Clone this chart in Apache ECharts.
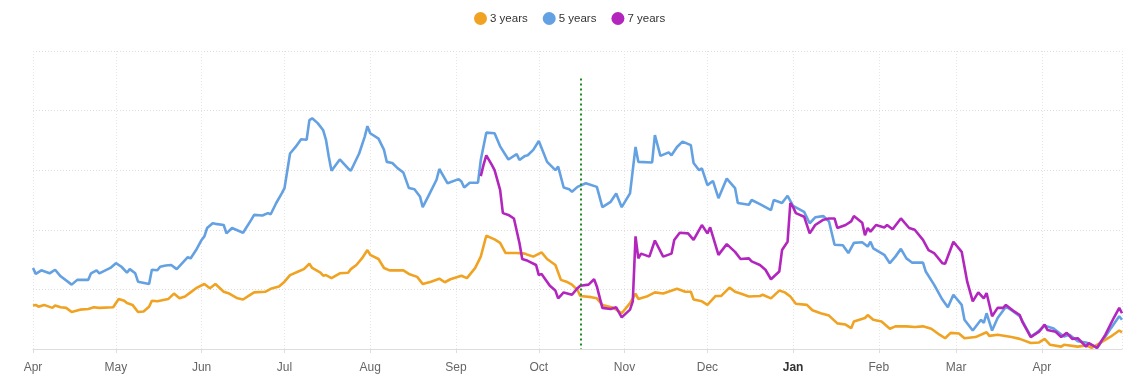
<!DOCTYPE html>
<html>
<head>
<meta charset="utf-8">
<script src="https://cdn.jsdelivr.net/npm/echarts@6/dist/echarts.min.js"></script>
<style>
html,body{margin:0;padding:0;background:#fff;}
#chart{width:1144px;height:385px;}
</style>
</head>
<body>
<div id="chart"></div>
<script>
// Day offsets are counted from the start date (1 Apr 2022)
const startDate = [2022, 3, 1];
const endDay = 394;
const markerDay = 198; // vertical marker (mid-October)
const seriesNames = ['3 years', '5 years', '7 years'];
const monthLabels = ['Jan','Feb','Mar','Apr','May','Jun','Jul','Aug','Sep','Oct','Nov','Dec'];

const threeYears = [[0,0.73],[1,0.74],[2,0.71],[4,0.74],[7,0.69],[8,0.73],[10,0.70],[12,0.69],[14,0.62],[17,0.66],[20,0.67],[22,0.70],[24,0.69],[29,0.70],[31,0.84],[33,0.81],[34,0.77],[36,0.74],[38,0.62],[40,0.63],[42,0.71],[43,0.81],[45,0.80],[48,0.83],[49,0.84],[51,0.93],[53,0.85],[55,0.88],[57,0.95],[59,1.02],[62,1.09],[64,1.02],[66,1.09],[69,0.96],[71,0.93],[74,0.85],[76,0.83],[78,0.89],[80,0.95],[84,0.96],[86,1.01],[89,1.05],[91,1.13],[93,1.24],[96,1.30],[98,1.34],[100,1.43],[101,1.36],[104,1.28],[105,1.23],[106,1.24],[108,1.19],[111,1.27],[114,1.28],[115,1.34],[117,1.41],[119,1.52],[121,1.66],[122,1.58],[125,1.51],[127,1.36],[129,1.32],[131,1.32],[134,1.32],[136,1.26],[139,1.21],[141,1.09],[144,1.13],[147,1.18],[149,1.12],[151,1.17],[155,1.23],[157,1.19],[160,1.36],[162,1.55],[164,1.90],[167,1.84],[169,1.78],[171,1.61],[175,1.61],[178,1.60],[179,1.58],[181,1.55],[184,1.62],[186,1.51],[189,1.41],[191,1.16],[193,1.13],[195,1.08],[197,0.99],[198,0.89],[202,0.87],[204,0.85],[206,0.74],[210,0.69],[213,0.60],[216,0.77],[218,0.93],[219,0.84],[222,0.88],[225,0.95],[228,0.93],[233,1.01],[236,0.96],[238,0.96],[239,0.83],[242,0.80],[244,0.74],[247,0.89],[249,0.89],[252,1.03],[254,0.96],[256,0.93],[259,0.88],[263,0.89],[264,0.91],[267,0.85],[270,0.98],[272,0.95],[274,0.88],[276,0.76],[280,0.74],[282,0.65],[285,0.60],[288,0.56],[291,0.43],[294,0.41],[296,0.35],[297,0.46],[301,0.52],[302,0.57],[304,0.49],[307,0.46],[310,0.34],[312,0.38],[316,0.38],[319,0.37],[322,0.38],[325,0.34],[328,0.24],[330,0.18],[332,0.27],[335,0.26],[337,0.18],[341,0.20],[345,0.28],[346,0.22],[349,0.24],[354,0.20],[357,0.17],[361,0.10],[364,0.11],[366,0.17],[368,0.07],[372,0.04],[373,0.07],[378,0.04],[381,0.06],[383,0.02],[386,0.10],[390,0.21],[393,0.31],[394,0.28]];

const fiveYears = [[0,1.36],[1,1.26],[3,1.32],[6,1.27],[8,1.33],[10,1.22],[14,1.08],[16,1.16],[20,1.16],[21,1.27],[23,1.32],[24,1.27],[28,1.36],[30,1.44],[32,1.38],[34,1.28],[35,1.34],[37,1.27],[38,1.13],[42,1.09],[43,1.33],[45,1.32],[46,1.38],[48,1.40],[50,1.41],[52,1.34],[56,1.54],[57,1.52],[59,1.66],[61,1.83],[62,1.89],[63,2.03],[65,2.11],[66,2.10],[69,2.08],[70,1.94],[72,2.03],[76,1.95],[79,2.17],[80,2.25],[83,2.24],[85,2.28],[86,2.26],[88,2.45],[90,2.61],[91,2.70],[93,3.28],[95,3.39],[97,3.52],[99,3.51],[100,3.84],[101,3.87],[103,3.79],[105,3.67],[106,3.51],[107,3.23],[108,2.99],[111,3.18],[114,3.03],[115,2.99],[118,3.28],[120,3.56],[121,3.74],[122,3.62],[125,3.53],[127,3.34],[128,3.14],[130,3.12],[132,3.03],[134,2.96],[136,2.70],[138,2.68],[140,2.56],[141,2.38],[143,2.56],[146,2.84],[147,3.02],[150,2.78],[154,2.85],[155,2.81],[156,2.71],[158,2.79],[161,2.79],[162,3.17],[164,3.63],[167,3.62],[169,3.40],[172,3.18],[175,3.27],[176,3.17],[178,3.24],[179,3.25],[181,3.34],[183,3.49],[186,3.14],[189,3.00],[190,3.06],[192,2.71],[194,2.68],[195,2.64],[197,2.72],[200,2.78],[204,2.72],[206,2.38],[209,2.47],[211,2.61],[213,2.38],[216,2.61],[218,3.39],[219,3.14],[224,3.13],[225,3.59],[227,3.24],[230,3.30],[231,3.25],[233,3.39],[235,3.48],[238,3.42],[239,3.12],[241,3.00],[242,3.03],[244,2.75],[246,2.82],[248,2.53],[251,2.86],[254,2.70],[255,2.45],[259,2.42],[260,2.50],[263,2.43],[267,2.33],[268,2.50],[271,2.45],[273,2.57],[275,2.40],[279,2.30],[281,2.11],[283,2.21],[286,2.23],[288,2.14],[290,1.75],[293,1.74],[295,1.61],[297,1.78],[300,1.79],[302,1.72],[303,1.80],[304,1.69],[308,1.58],[310,1.44],[312,1.55],[314,1.68],[316,1.52],[318,1.45],[322,1.45],[323,1.30],[326,1.08],[329,0.83],[331,0.70],[333,0.91],[336,0.74],[337,0.49],[340,0.31],[343,0.49],[344,0.44],[345,0.60],[347,0.31],[349,0.52],[352,0.71],[354,0.65],[357,0.55],[361,0.21],[363,0.27],[366,0.39],[369,0.35],[373,0.21],[375,0.24],[378,0.13],[381,0.11],[385,0.02],[388,0.21],[390,0.35],[393,0.55],[394,0.49]];

const sevenYears = [[162,2.90],[163,3.09],[164,3.25],[166,3.09],[167,3.00],[169,2.67],[170,2.28],[172,2.25],[174,2.19],[176,1.78],[177,1.51],[179,1.48],[182,1.41],[183,1.24],[184,1.26],[187,1.06],[189,0.98],[190,0.85],[192,0.95],[195,0.91],[197,1.02],[198,1.06],[201,1.08],[203,1.17],[204,1.05],[206,0.69],[209,0.67],[211,0.70],[213,0.53],[216,0.66],[217,0.80],[218,1.89],[219,1.52],[220,1.60],[223,1.55],[225,1.82],[228,1.55],[231,1.60],[232,1.83],[234,1.95],[237,1.94],[239,1.83],[242,2.08],[244,1.94],[245,2.04],[248,1.58],[251,1.76],[254,1.63],[256,1.51],[259,1.52],[260,1.47],[263,1.41],[265,1.33],[267,1.17],[270,1.30],[271,1.66],[273,1.80],[274,2.45],[275,2.38],[276,2.28],[279,2.22],[281,1.94],[283,2.08],[286,2.17],[288,2.19],[290,2.19],[291,2.03],[294,2.08],[296,2.14],[297,2.23],[300,2.12],[301,1.91],[302,2.03],[303,1.97],[305,2.08],[308,2.04],[309,2.08],[311,2.01],[314,2.19],[317,2.03],[319,2.00],[322,1.83],[324,1.66],[326,1.61],[329,1.44],[330,1.43],[333,1.80],[336,1.63],[338,1.13],[340,0.80],[342,0.95],[344,0.85],[345,0.94],[347,0.55],[349,0.69],[351,0.69],[352,0.74],[355,0.63],[357,0.57],[358,0.45],[361,0.20],[364,0.29],[366,0.41],[367,0.32],[370,0.29],[372,0.20],[374,0.27],[376,0.17],[378,0.18],[381,0.04],[382,0.10],[385,0.02],[388,0.24],[391,0.52],[393,0.69],[394,0.60]];

const colors = ['#F0A323', '#64A1E2', '#B326BD'];

function dayToTime(d) {
  return new Date(startDate[0], startDate[1], startDate[2] + d).getTime();
}
function toSeriesData(arr) {
  return arr.map(p => [dayToTime(p[0]), p[1]]);
}

const chart = echarts.init(document.getElementById('chart'), null, {renderer: 'canvas'});
const DAY = 86400000;

const option = {
  animation: false,
  color: colors,
  textStyle: {fontFamily: 'Liberation Sans, Arial, sans-serif'},
  legend: {
    top: 7,
    left: 469,
    icon: 'circle',
    itemWidth: 13,
    itemHeight: 13,
    itemGap: 15,
    textStyle: {fontSize: 11.5, color: '#333', padding: [0, 0, 0, -2]},
    data: seriesNames
  },
  grid: {left: 33, right: 22, top: 51, bottom: 36, containLabel: false},
  xAxis: {
    type: 'time',
    min: dayToTime(0),
    max: dayToTime(endDay),
    minInterval: 28 * DAY,
    maxInterval: 31 * DAY,
    axisLine: {show: true, lineStyle: {color: '#ddd', width: 1}},
    axisTick: {show: true, length: 4, lineStyle: {color: '#ddd'}},
    splitLine: {show: true, lineStyle: {color: '#e6e6e6', type: [1, 2], width: 1}},
    axisLabel: {
      color: '#666',
      fontSize: 12,
      margin: 13,
      showMaxLabel: false,
      hideOverlap: false,
      formatter: function (val) {
        const d = new Date(val);
        const m = d.getMonth();
        return m === 0 ? '{b|' + monthLabels[m] + '}' : monthLabels[m];
      },
      rich: {b: {fontWeight: 'bold', color: '#333', fontSize: 12}}
    }
  },
  yAxis: {
    type: 'value',
    min: 0,
    max: 5,
    interval: 1,
    axisLine: {show: false},
    axisTick: {show: false},
    axisLabel: {show: false},
    splitLine: {show: true, lineStyle: {color: '#dcdcdc', type: [1, 2], width: 1}}
  },
  series: [
    {
      name: seriesNames[0], type: 'line', showSymbol: false, symbol: 'circle',
      data: toSeriesData(threeYears),
      lineStyle: {width: 2.6, color: colors[0]},
      itemStyle: {color: colors[0]},
      z: 3,
      markLine: {
        silent: true,
        symbol: ['none', 'none'],
        label: {show: false},
        lineStyle: {color: '#1E8C1E', type: [2, 3], width: 2},
        data: [[{coord: [dayToTime(markerDay), 4.54]}, {coord: [dayToTime(markerDay), 0]}]]
      }
    },
    {
      name: seriesNames[1], type: 'line', showSymbol: false, symbol: 'circle',
      data: toSeriesData(fiveYears),
      lineStyle: {width: 2.6, color: colors[1]},
      itemStyle: {color: colors[1]},
      z: 2
    },
    {
      name: seriesNames[2], type: 'line', showSymbol: false, symbol: 'circle',
      data: toSeriesData(sevenYears),
      lineStyle: {width: 2.6, color: colors[2]},
      itemStyle: {color: colors[2]},
      z: 4
    }
  ]
};
chart.setOption(option);
</script>
</body>
</html>
